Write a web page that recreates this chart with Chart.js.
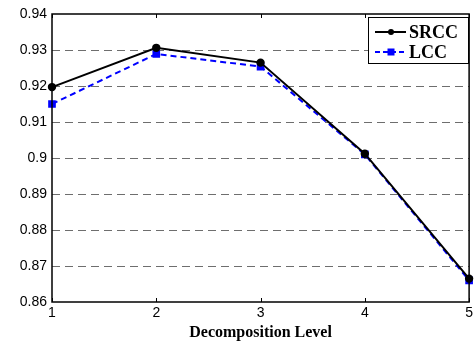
<!DOCTYPE html>
<html><head><meta charset="utf-8">
<script src="https://cdn.jsdelivr.net/npm/chart.js@4/dist/chart.umd.min.js"></script>
<style>html,body{margin:0;padding:0;background:#fff}#wrap{width:476px;height:342px}</style>
</head><body><div id="wrap"><canvas id="c" width="476" height="342"></canvas></div>
<script>
const levels = [1, 2, 3, 4, 5];
const srcc = [0.9197, 0.9306, 0.9265, 0.9012, 0.8665];
const lcc = [0.9150, 0.9289, 0.9254, 0.9010, 0.8660];
const yTicks = [0.86, 0.87, 0.88, 0.89, 0.9, 0.91, 0.92, 0.93, 0.94];
const seriesNames = ['SRCC', 'LCC'];

const gridPlug = {
  id: 'gridPlug',
  beforeDatasetsDraw(chart) {
    const {ctx, chartArea: a, scales: {y}} = chart;
    ctx.save();
    ctx.strokeStyle = '#6e6e6e'; ctx.lineWidth = 1; ctx.setLineDash([8, 5]);
    yTicks.slice(1, -1).forEach(v => {
      const py = Math.round(y.getPixelForValue(v)) + 0.5;
      ctx.beginPath(); ctx.moveTo(a.left, py); ctx.lineTo(a.right, py); ctx.stroke();
    });
    ctx.restore();
  },
  afterDraw(chart) {
    const {ctx, chartArea: a, scales: {x}} = chart;
    ctx.save();
    ctx.strokeStyle = '#000'; ctx.lineWidth = 1.5;
    ctx.strokeRect(a.left, a.top, a.right - a.left, a.bottom - a.top);
    ctx.lineWidth = 1;
    levels.forEach(v => {
      const px = Math.round(x.getPixelForValue(v)) + 0.5;
      ctx.beginPath(); ctx.moveTo(px, a.bottom); ctx.lineTo(px, a.bottom - 4);
      ctx.moveTo(px, a.top); ctx.lineTo(px, a.top + 4); ctx.stroke();
    });
    // legend
    const lx = 368, ly = 17, lw = 100, lh = 46;
    ctx.fillStyle = '#fff'; ctx.fillRect(lx, ly, lw, lh);
    ctx.strokeStyle = '#000'; ctx.lineWidth = 1; ctx.strokeRect(lx + 0.5, ly + 0.5, lw, lh);
    ctx.font = 'bold 18px "Liberation Serif"'; ctx.textBaseline = 'middle'; ctx.textAlign = 'left';
    const rows = [
      {name: seriesNames[0], col: '#000', dash: [], pt: 'circle', yy: ly + 15},
      {name: seriesNames[1], col: '#0000ff', dash: [5, 3], pt: 'rect', yy: ly + 35}
    ];
    rows.forEach(r => {
      ctx.strokeStyle = r.col; ctx.lineWidth = 2; ctx.setLineDash(r.dash);
      ctx.beginPath(); ctx.moveTo(lx + 7, r.yy); ctx.lineTo(lx + 38, r.yy); ctx.stroke();
      ctx.setLineDash([]); ctx.fillStyle = r.col;
      if (r.pt === 'circle') { ctx.beginPath(); ctx.arc(lx + 23, r.yy, 3, 0, Math.PI * 2); ctx.fill(); }
      else { ctx.fillRect(lx + 19.5, r.yy - 3.5, 7, 7); }
      ctx.fillStyle = '#000'; ctx.fillText(r.name, lx + 41, r.yy + 1);
    });
    ctx.restore();
  }
};

new Chart(document.getElementById('c'), {
  type: 'line',
  data: {
    datasets: [
      {label: seriesNames[0], data: levels.map((l, i) => ({x: l, y: srcc[i]})), borderColor: '#000', backgroundColor: '#000',
       borderWidth: 2, pointStyle: 'circle', pointRadius: 3.2, tension: 0, clip: false},
      {label: seriesNames[1], data: levels.map((l, i) => ({x: l, y: lcc[i]})), borderColor: '#0000ff', backgroundColor: '#0000ff',
       borderWidth: 2, borderDash: [6, 4], pointStyle: 'rect', pointRadius: 4, tension: 0, clip: false}
    ]
  },
  options: {
    responsive: false, animation: false, devicePixelRatio: 1,
    layout: {padding: {left: 0, right: 6, top: 14, bottom: 0}},
    plugins: {legend: {display: false}, tooltip: {enabled: false}},
    scales: {
      x: {type: 'linear', min: 1, max: 5, afterFit: s => { s.height = 40; },
        afterBuildTicks: s => { s.ticks = levels.map(v => ({value: v})); },
        grid: {display: false, drawTicks: false}, border: {display: false},
        ticks: {color: '#000', font: {family: '"Liberation Sans"', size: 14}, padding: 3, maxRotation: 0,
          callback: v => String(v)},
        title: {display: true, text: 'Decomposition Level', color: '#000', padding: {top: 0, bottom: 0},
          font: {family: '"Liberation Serif"', size: 16, weight: 'bold'}}},
      y: {min: 0.86, max: 0.94, afterFit: s => { s.width = 52; },
        afterBuildTicks: s => { s.ticks = yTicks.map(v => ({value: v})); },
        grid: {display: false, drawTicks: false},
        border: {display: false},
        ticks: {color: '#000', font: {family: '"Liberation Sans"', size: 14}, padding: 5,
          callback: v => (+v.toFixed(2)).toString()}}
    }
  },
  plugins: [gridPlug]
});
</script></body></html>
